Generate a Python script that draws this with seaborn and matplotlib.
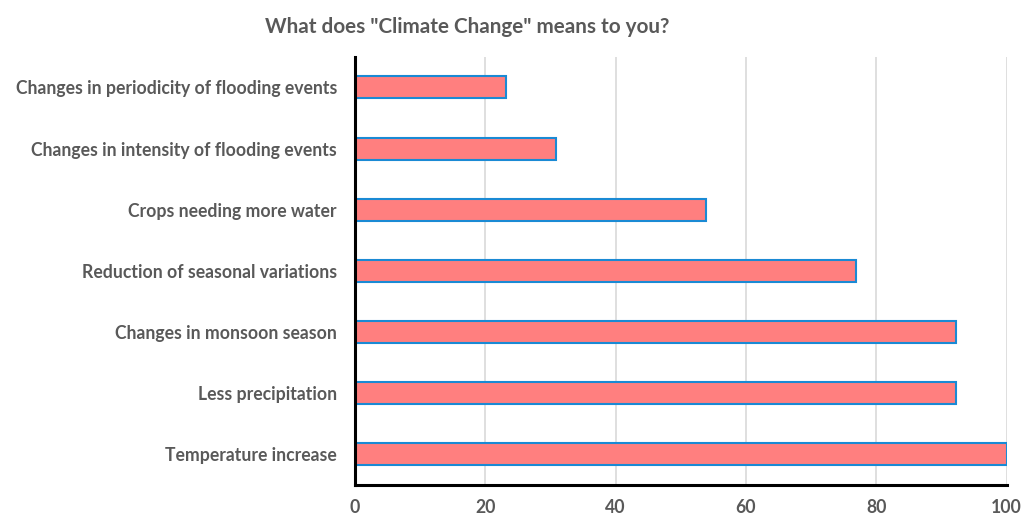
import pandas as pd
import seaborn as sns
import matplotlib.pyplot as plt

# Survey answers, top to bottom as shown
categories = [
    "Changes in periodicity of flooding events",
    "Changes in intensity of flooding events",
    "Crops needing more water",
    "Reduction of seasonal variations",
    "Changes in monsoon season",
    "Less precipitation",
    "Temperature increase",
]
values = [23.1, 30.8, 53.8, 76.9, 92.3, 92.3, 100]
ticks = [0, 20, 40, 60, 80, 100]

df = pd.DataFrame({"answer": categories, "pct": values})

sns.set_style("white")
plt.rcParams['font.family'] = ['Lato', 'DejaVu Sans']

fig = plt.figure(figsize=(10.23, 5.16), dpi=100)
ax = fig.add_axes([0.347, 0.06, 0.637, 0.83])

ax.grid(axis='x', color='#d9d9d9', linewidth=1.2, zorder=0)
ax.set_axisbelow(True)
sns.barplot(data=df, x="pct", y="answer", orient='h', color='#ff7f7f',
            edgecolor='#1a8ad4', linewidth=1.5, width=0.36, saturation=1, ax=ax)

ax.set_xlim(0, 100)
ax.set_xticks(ticks)
ax.set_xlabel("")
ax.set_ylabel("")
for side in ['top', 'right']:
    ax.spines[side].set_visible(False)
for side in ['left', 'bottom']:
    ax.spines[side].set_color('black')
    ax.spines[side].set_linewidth(2.2)
ax.tick_params(axis='both', length=0, labelsize=12.7, labelcolor='#595959')
ax.tick_params(axis='y', pad=13)
ax.tick_params(axis='x', pad=10)
for lbl in ax.get_xticklabels() + ax.get_yticklabels():
    lbl.set_fontweight('bold')

fig.text(0.457, 0.947, 'What does "Climate Change" means to you?', ha='center',
         va='center', fontsize=14.9, fontweight='bold', color='#595959')

plt.savefig("out.png", dpi=100)
